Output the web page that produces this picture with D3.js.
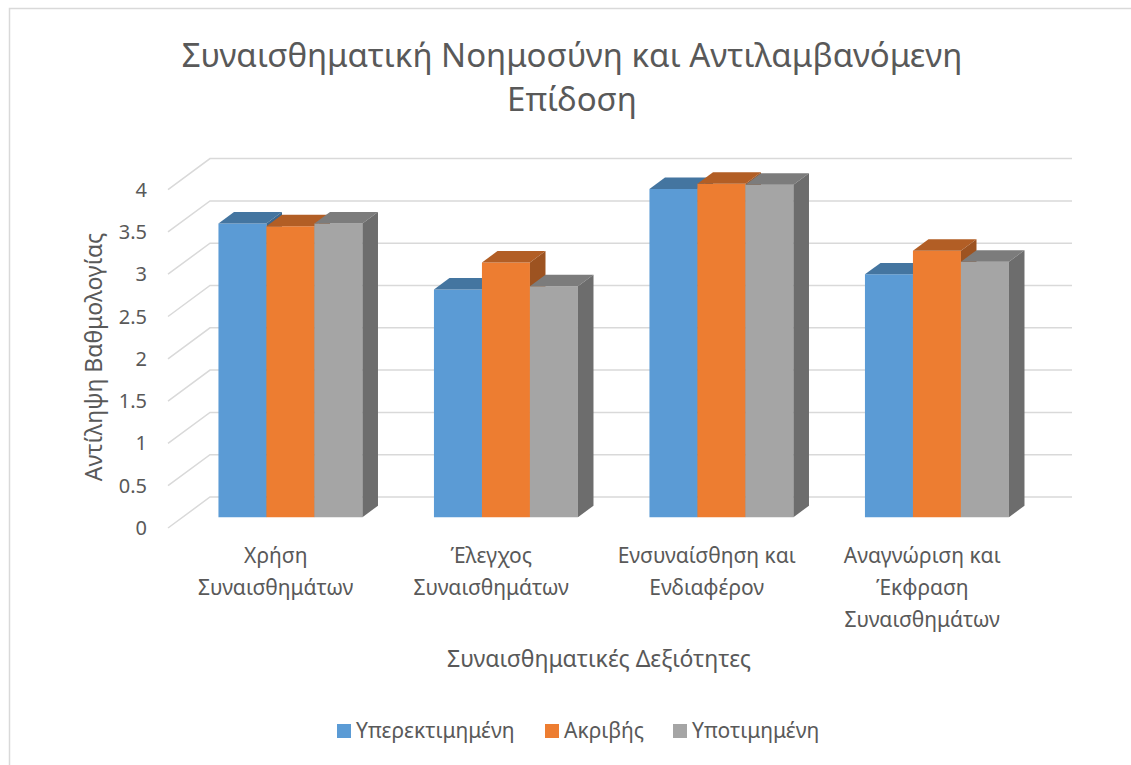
<!DOCTYPE html>
<html>
<head>
<meta charset="utf-8">
<script src="https://cdn.jsdelivr.net/npm/d3@7.9.0/dist/d3.min.js"></script>
<style>
  body { margin: 0; background: #fff; }
  svg { display: block; font-family: 'Noto Sans', 'Open Sans', sans-serif; }
  text { fill: #595959; }
</style>
</head>
<body>
<div id="chart"></div>
<script>
// Chart data
const categories = [
  ['Χρήση', 'Συναισθημάτων'],
  ['Έλεγχος', 'Συναισθημάτων'],
  ['Ενσυναίσθηση και', 'Ενδιαφέρον'],
  ['Αναγνώριση και', 'Έκφραση', 'Συναισθημάτων']
];
const seriesNames = ['Υπερεκτιμημένη', 'Ακριβής', 'Υποτιμημένη'];
const overestimated = [3.47, 2.69, 3.88, 2.87];
const accurate = [3.44, 3.01, 3.94, 3.15];
const underestimated = [3.47, 2.73, 3.93, 3.02];
const yTicks = [0, 0.5, 1, 1.5, 2, 2.5, 3, 3.5, 4];
const seriesValues = [overestimated, accurate, underestimated];

const colors = ['#5B9BD5', '#ED7D31', '#A5A5A5'];

const width = 1131, height = 765;

const svg = d3.select('#chart')
  .append('svg')
  .attr('width', width)
  .attr('height', height);

// Outer border (chart area frame)
svg.append('rect')
  .attr('x', 9.5).attr('y', 8.5)
  .attr('width', 1140).attr('height', 780)
  .attr('fill', 'none')
  .attr('stroke', '#d9d9d9')
  .attr('stroke-width', 1.5);

// 3D projection: depth 0 = front, 1 = back wall
const depthDx = 42, depthDy = -31;
const yFront = d3.scaleLinear().domain([0, 4]).range([528, 189.6]);
const x0 = d3.scaleBand()
  .domain(d3.range(categories.length))
  .range([168, 1030])
  .padding(0);
const x1 = d3.scaleBand()
  .domain(d3.range(seriesNames.length))
  .range([0, x0.bandwidth()])
  .paddingInner(0)
  .paddingOuter(0.745);

const proj = (x, v, depth) => [x + depthDx * depth, yFront(v) + depthDy * depth];

// Gridlines: side wall diagonals + back wall lines
const grid = svg.append('g').attr('class', 'gridlines');
yTicks.forEach(t => {
  const a = proj(168, t, 0);
  const b = proj(168, t, 1);
  const c = proj(1030, t, 1);
  grid.append('polyline')
    .attr('points', [a, b, c].map(p => p.join(',')).join(' '))
    .attr('fill', 'none')
    .attr('stroke', '#d9d9d9')
    .attr('stroke-width', 1.5);
});

// Y tick labels
svg.append('g')
  .selectAll('text')
  .data(yTicks)
  .join('text')
  .attr('x', 147)
  .attr('y', d => yFront(d))
  .attr('dy', '0.35em')
  .attr('text-anchor', 'end')
  .style('font-size', '20px')
  .text(d => d);

// Bars
const dFront = 0.35, dBack = 0.72;
const bars = svg.append('g').attr('class', 'bars');
categories.forEach((cat, ci) => {
  seriesValues.forEach((vals, si) => {
    const v = vals[ci];
    const xl = x0(ci) + x1(si);
    const xr = xl + x1.bandwidth();
    const base = d3.color(colors[si]);
    const pts = (arr) => arr.map(p => p.join(',')).join(' ');
    const fTL = proj(xl, v, dFront), fTR = proj(xr, v, dFront);
    const fBR = proj(xr, 0, dFront), fBL = proj(xl, 0, dFront);
    const bTL = proj(xl, v, dBack), bTR = proj(xr, v, dBack), bBR = proj(xr, 0, dBack);
    // front face
    bars.append('polygon')
      .attr('points', pts([fTL, fTR, fBR, fBL]))
      .attr('fill', base.formatHex());
    // top face
    bars.append('polygon')
      .attr('points', pts([fTL, fTR, bTR, bTL]))
      .attr('fill', base.darker(0.8).formatHex());
    // side face
    bars.append('polygon')
      .attr('points', pts([fTR, bTR, bBR, fBR]))
      .attr('fill', base.darker(1.15).formatHex());
  });
});

// Category labels
const catG = svg.append('g');
categories.forEach((lines, ci) => {
  const cx = x0(ci) + x0.bandwidth() / 2;
  const t = catG.append('text')
    .attr('x', cx)
    .attr('y', 563)
    .attr('text-anchor', 'middle')
    .style('font-size', '21px');
  lines.forEach((ln, i) => {
    t.append('tspan')
      .attr('x', cx)
      .attr('dy', i === 0 ? 0 : 32)
      .text(ln);
  });
});

// Title
const title = svg.append('text')
  .attr('x', 572)
  .attr('text-anchor', 'middle')
  .style('font-size', '33px');
title.append('tspan').attr('x', 572).attr('y', 67)
  .text('Συναισθηματική Νοημοσύνη και Αντιλαμβανόμενη');
title.append('tspan').attr('x', 572).attr('y', 111)
  .text('Επίδοση');

// Axis titles
svg.append('text')
  .attr('x', 599)
  .attr('y', 667)
  .attr('text-anchor', 'middle')
  .style('font-size', '23px')
  .text('Συναισθηματικές Δεξιότητες');

svg.append('text')
  .attr('transform', 'translate(102, 357) rotate(-90)')
  .attr('text-anchor', 'middle')
  .style('font-size', '23px')
  .text('Αντίληψη Βαθμολογίας');

// Legend
const legendX = [337, 545, 673];
const legend = svg.append('g');
seriesNames.forEach((name, i) => {
  legend.append('rect')
    .attr('x', legendX[i]).attr('y', 724)
    .attr('width', 14).attr('height', 14)
    .attr('fill', colors[i]);
  legend.append('text')
    .attr('x', legendX[i] + 19)
    .attr('y', 731)
    .attr('dy', '0.35em')
    .style('font-size', '21px')
    .text(name);
});
</script>
</body>
</html>
